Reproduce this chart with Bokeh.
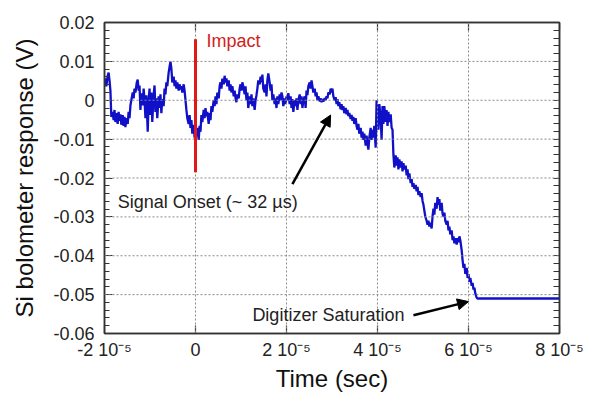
from bokeh.plotting import figure
from bokeh.models import (Range1d, FixedTicker, LinearAxis, Arrow, NormalHead, Label, Span)
from bokeh.embed import file_html
from bokeh.resources import INLINE

# ---------------- data (time in microseconds, response in millivolts) -------------
t_us = [-20.0, -19.8, -19.6, -19.3, -19.1, -18.9, -18.7, -18.5, -18.2, -18.0, -17.8, -17.6, -17.4, -17.1,
        -16.9, -16.7, -16.5, -16.3, -16.0, -15.8, -15.6, -15.4, -15.2, -14.9, -14.7, -14.5, -14.3, -14.1,
        -13.8, -13.6, -13.4, -13.2, -12.9, -12.7, -12.5, -12.3, -12.1, -11.9, -11.6, -11.4, -11.2, -11.0,
        -10.8, -10.5, -10.3, -10.1, -9.9, -9.7, -9.5, -9.2, -9.0, -8.8, -8.6, -8.4, -8.1, -7.9, -7.7, -7.5,
        -7.3, -7.0, -6.8, -6.6, -6.4, -6.2, -5.9, -5.7, -5.5, -5.3, -5.1, -4.8, -4.6, -4.4, -4.2, -4.0,
        -3.7, -3.5, -3.3, -3.1, -2.9, -2.6, -2.4, -2.2, -2.0, -1.8, -1.5, -1.3, -1.1, -0.9, -0.7, -0.4,
        -0.2, 0.0, 0.2, 0.4, 0.7, 0.9, 1.1, 1.3, 1.5, 1.8, 2.0, 2.2, 2.4, 2.6, 2.9, 3.1, 3.3, 3.5, 3.7,
        4.0, 4.2, 4.4, 4.6, 4.8, 5.1, 5.3, 5.5, 5.7, 5.9, 6.2, 6.4, 6.6, 6.8, 7.0, 7.3, 7.5, 7.7, 7.9,
        8.1, 8.4, 8.6, 8.8, 9.0, 9.2, 9.5, 9.7, 9.9, 10.1, 10.3, 10.6, 10.8, 11.0, 11.2, 11.4, 11.6, 11.9,
        12.1, 12.3, 12.5, 12.7, 13.0, 13.2, 13.4, 13.6, 13.8, 14.1, 14.3, 14.5, 14.7, 14.9, 15.2, 15.4,
        15.6, 15.8, 16.0, 16.3, 16.5, 16.7, 16.9, 17.1, 17.4, 17.6, 17.8, 18.0, 18.2, 18.5, 18.7, 18.9,
        19.1, 19.3, 19.6, 19.8, 20.0, 20.2, 20.4, 20.7, 20.9, 21.1, 21.3, 21.5, 21.8, 22.0, 22.2, 22.4,
        22.6, 22.9, 23.1, 23.3, 23.5, 23.7, 24.0, 24.2, 24.4, 24.6, 24.8, 25.1, 25.3, 25.5, 25.7, 25.9,
        26.2, 26.4, 26.6, 26.8, 27.0, 27.3, 27.5, 27.7, 27.9, 28.1, 28.4, 28.6, 28.8, 29.0, 29.2, 29.5,
        29.7, 29.9, 30.1, 30.3, 30.6, 30.8, 31.0, 31.2, 31.4, 31.6, 31.9, 32.1, 32.3, 32.5, 32.7, 33.0,
        33.2, 33.4, 33.6, 33.8, 34.1, 34.3, 34.5, 34.7, 34.9, 35.2, 35.4, 35.6, 35.8, 36.0, 36.3, 36.5,
        36.7, 36.9, 37.1, 37.4, 37.6, 37.8, 38.0, 38.2, 38.5, 38.7, 38.9, 39.1, 39.3, 39.6, 39.8, 40.0,
        40.2, 40.4, 40.7, 40.9, 41.1, 41.3, 41.5, 41.8, 42.0, 42.2, 42.4, 42.6, 42.9, 43.1, 43.3, 43.5,
        43.7, 44.0, 44.2, 44.4, 44.6, 44.8, 45.1, 45.3, 45.5, 45.7, 45.9, 46.2, 46.4, 46.6, 46.8, 47.0,
        47.3, 47.5, 47.7, 47.9, 48.1, 48.4, 48.6, 48.8, 49.0, 49.2, 49.5, 49.7, 49.9, 50.1, 50.3, 50.5,
        50.8, 51.0, 51.2, 51.4, 51.6, 51.9, 52.1, 52.3, 52.5, 52.7, 53.0, 53.2, 53.4, 53.6, 53.8, 54.1,
        54.3, 54.5, 54.7, 54.9, 55.2, 55.4, 55.6, 55.8, 56.0, 56.3, 56.5, 56.7, 56.9, 57.1, 57.4, 57.6,
        57.8, 58.0, 58.2, 58.5, 58.7, 58.9, 59.1, 59.3, 59.6, 59.8, 60.0, 60.2, 60.4, 60.7, 60.9, 61.1,
        61.3, 61.5, 61.8, 62.0, 80.0]

v_mV = [4.1, 5.6, 3.6, 6.3, 7.1, 5.1, 2.5, -4.3, -3.0, -5.1, -2.5, -5.6, -3.3, -6.1,
        -3.0, -5.3, -3.6, -6.3, -3.8, -6.6, -4.3, -6.9, -4.6, -6.1, -3.0, -4.6, -1.3, 0.0,
        2.0, 0.5, 3.0, 2.0, 4.6, 5.3, 2.5, 3.8, -2.5, 1.8, -1.3, 3.0, 0.0, -4.6,
        1.3, -8.1, 0.0, 3.0, -3.8, 2.0, -5.6, 1.3, 3.8, -3.0, 0.5, -4.6, 1.0, -2.0, 1.5, -3.3,
        0.3, -1.5, 3.0, 1.5, 4.6, 3.6, 7.1, 8.6, 9.9, 8.1, 4.6, 6.1, 3.6, 5.1, 3.0, 4.6,
        2.5, 4.1, 2.8, 3.6, 2.0, 4.1, 2.5, 0.0, -2.5, -4.6, -6.1, -3.8, -7.1, -5.1, -8.6, -6.3,
        -9.6, -5.6, -8.9, -7.1, -10.2, -6.6, -8.1, -3.8, -5.6, -2.5, -4.6, -2.0, -4.1, -3.0, -6.1, -3.3, -5.1, -1.5, -3.0,
        0.0, -1.5, 1.0, -1.0, 2.0, 0.5, 3.6, 4.6, 3.0, 5.6, 4.1, 6.3, 4.6, 5.6, 3.6, 5.1, 2.5, 4.1, 2.0,
        3.6, 1.0, 2.5, 0.5, -0.5, 1.5, 0.5, 3.0, 4.1, 2.5, 4.6, 3.0, 1.5, 3.6, 0.0, 2.0, -2.0, 1.0,
        -1.0, 1.5, -1.5, 0.5, -2.5, 0.0, 1.3, 3.0, 5.1, 4.1, 6.1, 4.6, 6.6, 3.0, 2.0, 4.1,
        1.0, 5.1, 6.9, 4.6, 2.5, 4.1, 0.0, 1.5, -1.0, 0.5, -2.0, 1.0, -1.0, 1.5, 0.0, 2.0,
        1.0, -1.5, 0.5, -1.0, 1.0, 0.0, 1.8, -1.0, 1.0, -2.0, 0.3, -3.0, 0.0, -1.5, 0.5, -2.5,
        0.0, 1.5, -1.0, 1.0, -2.0, 0.0, 1.0, -2.0, 2.5, 1.3, 3.6, 4.6, 3.0, 5.1, 3.6, 2.0,
        3.0, 1.0, 2.0, 0.0, 1.0, -0.3, 0.5, -0.5, 0.3, -0.3, 0.5, 0.0, 1.0, 0.5, 2.0, 1.5,
        3.0, 2.0, 3.0, 1.0, 0.0, 0.8, -1.0, 0.3, -1.5, -0.5, -2.3, -1.0, -2.5, -1.5, -3.3, -2.0,
        -3.6, -2.5, -4.1, -3.3, -4.8, -3.8, -5.3, -4.3, -6.1, -4.6, -6.6, -7.6, -6.1, -8.6, -7.1, -9.6,
        -8.1, -10.2, -8.6, -11.7, -9.1, -11.2, -12.7, -9.6, -7.1, -10.2, -7.6, -9.6, -6.6, -12.2, 0.0, -3.0,
        -7.6, -1.0, -4.6, -10.2, -1.5, -6.1, -1.5, -5.6, -2.5, -6.6, -3.0, -5.6, -3.6, -7.1, -7.6, -14.0,
        -17.3, -14.2, -16.8, -14.7, -17.8, -15.2, -17.3, -15.7, -18.3, -16.2, -17.8, -16.8, -19.3, -17.8, -20.3, -18.8,
        -21.3, -20.3, -22.3, -21.3, -22.8, -21.8, -23.4, -22.3, -24.4, -23.4, -24.9, -23.9, -25.9, -26.9, -28.4, -29.9,
        -31.0, -32.0, -31.0, -32.5, -31.5, -33.0, -29.9, -27.9, -29.4, -26.4, -27.9, -24.9, -26.9, -25.4, -28.4, -26.4,
        -29.2, -29.9, -28.9, -31.0, -32.0, -31.0, -33.5, -32.5, -34.5, -33.5, -36.0, -35.0, -36.8, -35.5, -37.1, -35.5,
        -36.5, -35.0, -36.0, -38.6, -41.1, -43.1, -42.1, -44.7, -43.1, -45.7, -44.7, -46.7, -45.7, -47.7, -47.0, -48.7,
        -48.2, -49.7, -50.8, -51.0, -51.0]

x_ticks = [-2e-5, 0.0, 2e-5, 4e-5, 6e-5, 8e-5]
x_tick_labels = ["-2 10\u207b\u2075", "0", "2 10\u207b\u2075", "4 10\u207b\u2075", "6 10\u207b\u2075", "8 10\u207b\u2075"]
y_ticks = [0.02, 0.01, 0.0, -0.01, -0.02, -0.03, -0.04, -0.05, -0.06]
y_tick_labels = ["0.02", "0.01", "0", "-0.01", "-0.02", "-0.03", "-0.04", "-0.05", "-0.06"]

impact_t_us = 0.0
impact_span_mV = [15.7, -18.5]

x_sec = [t * 1e-6 for t in t_us]
y_volt = [v * 1e-3 for v in v_mV]

FONT = "Liberation Sans"
AX = "#333333"

p = figure(width=591, height=394, output_backend="svg", toolbar_location=None,
           x_range=Range1d(-2e-5, 8e-5), y_range=Range1d(-0.06, 0.02),
           min_border_left=104, min_border_right=32, min_border_top=22, min_border_bottom=57,
           x_axis_label="Time (sec)", y_axis_label="Si bolometer response (V)")
p.outline_line_color = AX
p.outline_line_width = 1.5

y_minor = [round(-0.06 + 0.002 * i, 3) for i in range(41)]
xt = FixedTicker(ticks=x_ticks)
yt = FixedTicker(ticks=y_ticks, minor_ticks=y_minor)

for ax in p.xaxis:
    ax.ticker = xt
    ax.major_label_overrides = {k: lab for k, lab in zip(x_ticks, x_tick_labels)}
    ax.minor_tick_line_color = None
    ax.major_tick_in = 8
    ax.major_tick_out = 0
    ax.major_label_standoff = 6
    ax.axis_label_standoff = 2
for ax in p.yaxis:
    ax.ticker = yt
    ax.major_label_overrides = {k: lab for k, lab in zip(y_ticks, y_tick_labels)}
    ax.major_tick_in = 8
    ax.major_tick_out = 0
    ax.minor_tick_in = 5
    ax.minor_tick_out = 0
    ax.minor_tick_line_color = AX
    ax.major_label_standoff = 10
    ax.axis_label_standoff = 12
for ax in list(p.xaxis) + list(p.yaxis):
    ax.axis_line_color = AX
    ax.axis_line_width = 1.5
    ax.major_tick_line_color = AX
    ax.major_tick_line_width = 1.2
    ax.major_label_text_font = FONT
    ax.major_label_text_font_size = "18px"
    ax.major_label_text_color = "#222222"
    ax.axis_label_text_font = FONT
    ax.axis_label_text_font_size = "24px"
    ax.axis_label_text_font_style = "normal"
    ax.axis_label_text_color = "#111111"

# right and top frame ticks (no labels): ticks drawn as minor ticks only
right = LinearAxis(ticker=FixedTicker(ticks=[], minor_ticks=y_minor),
                   major_tick_line_color=None, minor_tick_in=6, minor_tick_out=0,
                   minor_tick_line_color=AX, axis_line_color=AX, axis_line_width=1.5)
p.add_layout(right, "right")
top = LinearAxis(ticker=FixedTicker(ticks=[], minor_ticks=x_ticks),
                 major_tick_line_color=None, minor_tick_in=8, minor_tick_out=0,
                 minor_tick_line_color=AX, minor_tick_line_width=1.2,
                 axis_line_color=AX, axis_line_width=1.5)
p.add_layout(top, "above")

# dotted grid lines at the major ticks
p.xgrid.visible = False
p.ygrid.visible = False
for xv in x_ticks[1:-1]:
    p.add_layout(Span(location=xv, dimension="height", line_color="#8a8a8a",
                      line_dash="2 2", line_width=1))
for yv in y_ticks[1:-1]:
    p.add_layout(Span(location=yv, dimension="width", line_color="#8a8a8a",
                      line_dash="2 2", line_width=1))

p.line(x_sec, y_volt, line_color="#1010c8", line_width=2.3)

# impact marker, drawn above the grid
p.add_layout(Arrow(x_start=impact_t_us * 1e-6, y_start=impact_span_mV[0] * 1e-3,
                   x_end=impact_t_us * 1e-6, y_end=impact_span_mV[1] * 1e-3,
                   end=None, line_color="#e01818", line_width=3))

p.add_layout(Label(x=2.4e-6, y=0.0152, text="Impact", text_font=FONT, text_font_size="18px",
                   text_color="#d42020", text_baseline="middle", text_align="left"))
p.add_layout(Label(x=-17.1e-6, y=-0.0261, text="Signal Onset (~ 32 \u00b5s)", text_font=FONT,
                   text_font_size="18px", text_color="#222222", text_baseline="middle", text_align="left"))
p.add_layout(Label(x=12.5e-6, y=-0.0553, text="Digitizer Saturation", text_font=FONT,
                   text_font_size="18px", text_color="#222222", text_baseline="middle", text_align="left"))

p.add_layout(Arrow(x_start=21.3e-6, y_start=-0.0216, x_end=29.7e-6, y_end=-0.0038,
                   line_width=2.5, line_color="black",
                   end=NormalHead(size=11, fill_color="black", line_color="black")))
p.add_layout(Arrow(x_start=47.9e-6, y_start=-0.0553, x_end=60.0e-6, y_end=-0.0518,
                   line_width=2.5, line_color="black",
                   end=NormalHead(size=11, fill_color="black", line_color="black")))

open("out.html", "w").write(file_html(p, INLINE))
